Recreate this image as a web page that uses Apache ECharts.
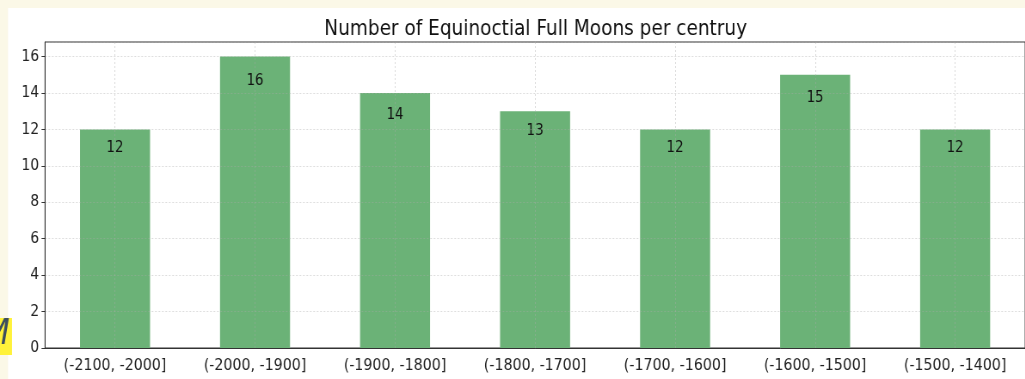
<!DOCTYPE html>
<html>
<head>
<meta charset="utf-8">
<script src="https://cdn.jsdelivr.net/npm/echarts@6/dist/echarts.min.js"></script>
<style>
  html, body { margin: 0; padding: 0; background: #ffffff; overflow: hidden; }
  /* the chart is laid out wider and squeezed horizontally, giving narrow, tall lettering */
  #chart { width: 1192px; height: 379px; transform: scaleX(0.86); transform-origin: 0 0; }
</style>
</head>
<body>
<div id="chart"></div>
<script>
// Century bins and the count of equinoctial full moons in each
const centuries = ['(-2100, -2000]', '(-2000, -1900]', '(-1900, -1800]', '(-1800, -1700]',
                   '(-1700, -1600]', '(-1600, -1500]', '(-1500, -1400]'];
const moonCounts = [12, 16, 14, 13, 12, 15, 12];
const yTicks = [0, 2, 4, 6, 8, 10, 12, 14, 16];

const SX = 0.86;                       // horizontal squeeze applied by CSS
const px = v => v / SX;                // screen x -> layout x
const FONT = "'DejaVu Sans', sans-serif";
const gridLineStyle = { color: 'rgba(170,170,170,0.4)', type: [2, 2], width: 1 };

const chart = echarts.init(document.getElementById('chart'), null, { renderer: 'canvas' });
chart.setOption({
  animation: false,
  backgroundColor: '#ffffff',
  textStyle: { fontFamily: FONT },
  title: {
    text: 'Number of Equinoctial Full Moons per centruy',
    left: px(320), top: 13,
    textStyle: { fontFamily: FONT, fontSize: 21.5, fontWeight: 'normal', color: '#111' }
  },
  grid: {
    left: px(45), top: 42, bottom: 31, width: px(983),
    show: true, borderColor: '#333', borderWidth: 1, backgroundColor: 'transparent'
  },
  xAxis: {
    type: 'category',
    data: centuries,
    z: 3,
    axisLine: { lineStyle: { color: '#333', width: 1 } },
    axisTick: { alignWithLabel: true, length: 4, lineStyle: { color: '#333' } },
    axisLabel: { fontFamily: FONT, fontSize: 16.5, color: '#222', margin: 9, interval: 0 },
    splitLine: { show: false }
  },
  yAxis: {
    type: 'value',
    min: 0, max: 16.8, interval: 2,
    z: 3,
    axisLine: { show: true, lineStyle: { color: '#333', width: 1 } },
    axisTick: { show: true, length: 4, lineStyle: { color: '#333' } },
    axisLabel: {
      fontFamily: FONT, fontSize: 16, color: '#222', margin: 7, showMaxLabel: false,
      formatter: v => (yTicks.indexOf(v) >= 0 ? String(v) : '')
    },
    splitLine: { show: true, lineStyle: gridLineStyle }
  },
  series: [{
    type: 'bar',
    data: moonCounts,
    barWidth: '50%',
    itemStyle: { color: '#6bb277' },
    label: {
      show: true,
      position: ['50%', '8.5%'],
      align: 'center',
      verticalAlign: 'middle',
      fontFamily: FONT, fontSize: 15.5, color: '#111'
    },
    // vertical grid lines through each category tick
    markLine: {
      silent: true,
      symbol: ['none', 'none'],
      label: { show: false },
      lineStyle: gridLineStyle,
      data: centuries.map(c => ({ xAxis: c }))
    }
  }],
  graphic: [
    // cream margin along the top and left edges
    { type: 'rect', z: 100, shape: { x: 0, y: 0, width: px(1025), height: 8 }, style: { fill: '#fbf8e7' } },
    { type: 'rect', z: 100, shape: { x: 0, y: 0, width: px(8), height: 379 }, style: { fill: '#fbf8e7' } },
    // highlighted letter at the lower-left corner
    { type: 'rect', z: 101, shape: { x: 0, y: 318, width: px(12), height: 37 }, style: { fill: '#fff23a' } },
    { type: 'text', z: 102, left: px(-17), top: 317,
      style: { text: 'M', fontSize: 36, fontStyle: 'italic', fontFamily: FONT, fill: '#3c4d5e' } }
  ]
});
</script>
</body>
</html>
